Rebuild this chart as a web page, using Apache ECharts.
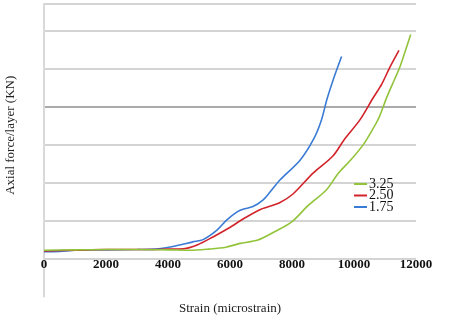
<!DOCTYPE html>
<html>
<head>
<meta charset="utf-8">
<script src="https://cdn.jsdelivr.net/npm/echarts@6/dist/echarts.min.js"></script>
<style>
  html, body { margin: 0; padding: 0; background: #fff; }
  #chart { width: 452px; height: 323px; }
</style>
</head>
<body>
<div id="chart"></div>
<script>
const chart = echarts.init(document.getElementById("chart"));

// strain (microstrain), axial force (KN)
const s325 = [
    [0, 0.02], [1000, 0.03], [2000, 0.04], [3000, 0.04], [4000, 0.03], [4700, 0.02],
    [5300, 0.05], [5870, 0.1], [6320, 0.2], [6900, 0.29], [7420, 0.5], [7980, 0.76],
    [8550, 1.22], [9100, 1.6], [9500, 2.05], [9900, 2.4], [10300, 2.8], [10600, 3.2],
    [10800, 3.5], [11060, 4.05], [11300, 4.5], [11480, 4.84], [11650, 5.25], [11830, 5.7]
];
const s250 = [
    [0, 0.0], [1000, 0.02], [2000, 0.04], [3100, 0.04], [4000, 0.05], [4500, 0.06],
    [4940, 0.16], [5450, 0.37], [5950, 0.6], [6500, 0.88], [7000, 1.1], [7600, 1.27],
    [8030, 1.5], [8680, 2.05], [9320, 2.5], [9700, 2.95], [10190, 3.45], [10610, 4.02],
    [10900, 4.4], [11160, 4.84], [11450, 5.28]
];
const s175 = [
    [0, -0.02], [500, -0.01], [1000, 0.02], [2000, 0.03], [3000, 0.04], [3600, 0.05],
    [4160, 0.12], [4800, 0.24], [5130, 0.3], [5580, 0.55], [5900, 0.82], [6230, 1.03],
    [6420, 1.1], [6740, 1.17], [7060, 1.34], [7290, 1.55], [7610, 1.87], [8260, 2.39],
    [8700, 2.95], [8950, 3.45], [9130, 4.0], [9390, 4.65], [9600, 5.12]
];

const seriesNames = ["3.25", "2.50", "1.75"];
const seriesColors = ["#92c43a", "#d2232a", "#3a7bd5"];
const seriesData = [s325, s250, s175];

const serif = "Liberation Serif";
const grid = "#d4d4d4";
const clear = "rgba(0,0,0,0)";

const option = {
    animation: false,
    grid: { left: 44, right: 36, top: 4, bottom: 26.4, outerBoundsMode: "none", containLabel: false },
    legend: {
        orient: "vertical",
        left: 349,
        top: 172,
        itemWidth: 13,
        itemHeight: 2,
        itemGap: -2.5,
        icon: "rect",
        textStyle: { fontFamily: serif, fontSize: 14, color: "#111", padding: [0, 0, 0, -3] },
        data: seriesNames
    },
    xAxis: {
        type: "value",
        min: 0,
        max: 12000,
        interval: 2000,
        name: "Strain (microstrain)",
        nameLocation: "middle",
        nameGap: 5,
        nameMoveOverlap: false,
        nameTextStyle: { fontFamily: serif, fontSize: 13, color: "#222" },
        axisLine: { show: false, onZero: false },
        axisTick: { show: false },
        axisLabel: {
            fontFamily: serif, fontWeight: "bold", fontSize: 13, color: "#111", margin: -38.6,
            formatter: v => String(v)
        },
        splitLine: { show: false }
    },
    yAxis: {
        type: "value",
        min: -1.2,
        max: 6.5,
        interval: 1,
        name: "Axial force/layer (KN)",
        nameLocation: "middle",
        nameGap: 27,
        nameMoveOverlap: false,
        nameTextStyle: { fontFamily: serif, fontSize: 13, color: "#222", padding: [0, 0, 0, 30] },
        axisLine: { show: true, onZero: false, lineStyle: { color: "#d9d9d9", width: 2 } },
        axisTick: { show: false },
        axisLabel: {
            fontFamily: serif, fontWeight: "bold", fontSize: 13, color: "#111", margin: 8,
            formatter: v => (Number.isInteger(v) ? String(v) : "")
        },
        splitLine: {
            show: true,
            lineStyle: {
                width: 2,
                color: [clear, grid, grid, grid, grid, "#aaaaaa", grid, grid, grid, clear]
            }
        }
    },
    series: seriesNames.map((name, i) => ({
        name: name,
        type: "line",
        data: seriesData[i],
        showSymbol: false,
        smooth: 0.3,
        lineStyle: { color: seriesColors[i], width: 1.6 },
        itemStyle: { color: seriesColors[i] },
        z: 3 - i
    }))
};

chart.setOption(option);
</script>
</body>
</html>
